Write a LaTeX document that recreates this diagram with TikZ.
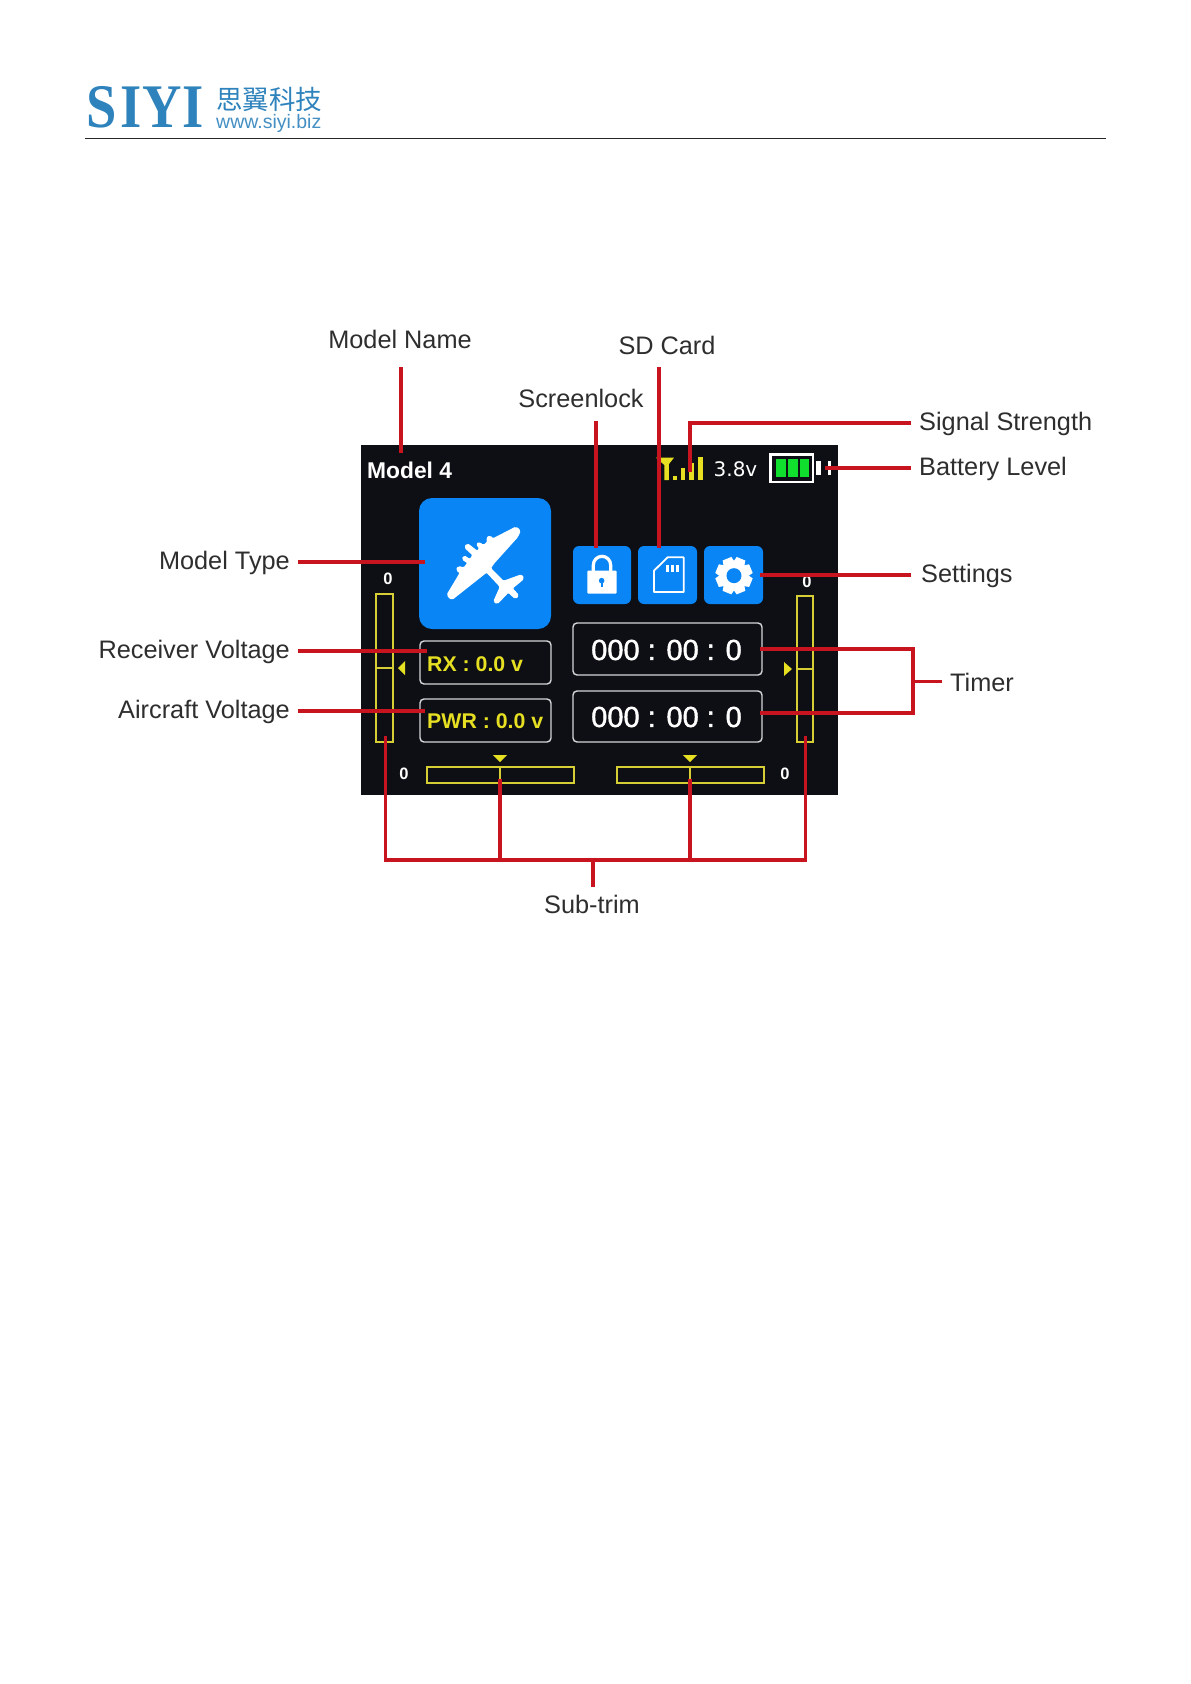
\documentclass[tikz,border=0pt]{standalone}
\usepackage{fontspec}
\setmainfont{Liberation Sans}
\newfontfamily\cjk{Noto Sans CJK SC}
\newfontfamily\logoserif{Liberation Serif}
\newfontfamily\semib[FakeBold=1.5]{Liberation Sans}
\newfontfamily\dv{DejaVu Sans}
\definecolor{screenbg}{HTML}{0D0F14}
\definecolor{iconblue}{HTML}{0A85F5}
\definecolor{logoblue}{HTML}{2F83BD}
\definecolor{barcol}{HTML}{D6CE35}
\definecolor{txtyellow}{HTML}{E6DF22}
\definecolor{linered}{HTML}{C8141E}
\definecolor{lblgray}{HTML}{2E2E2E}
\definecolor{boxgray}{HTML}{D4D6D8}
\definecolor{battgreen}{HTML}{10DF2E}
\newcommand{\logochar}[1]{\scalebox{0.88}[1]{\logoserif\bfseries\fontsize{62}{62}\selectfont #1}}
\tikzset{
 conn/.style={draw=linered,line width=3.2pt},
 lbl/.style={inner xsep=8pt,inner ysep=3pt,text=lblgray,font=\fontsize{25.3}{30}\selectfont},
 tbox/.style={draw=boxgray,line width=1.4pt,rounded corners=4pt},
 bluebtn/.style={fill=iconblue,rounded corners=6pt},
 trimbar/.style={draw=barcol,line width=1.2pt},
 trimtri/.style={fill=txtyellow},
 zero/.style={text=white,font=\bfseries\fontsize{16.5}{18}\selectfont,inner sep=0pt},
 voltage/.style={anchor=base west,inner sep=0pt,text=txtyellow,font=\bfseries\fontsize{21.3}{24}\selectfont},
 timer/.style={anchor=center,inner sep=0pt,text=white,font=\semib\fontsize{29}{32}\selectfont},
 logoletter/.style={anchor=base,inner sep=0pt,text=logoblue},
}
\begin{document}
\begin{tikzpicture}[x=1pt,y=-1pt]
\useasboundingbox (0,0) rectangle (1191,1684);
\fill[white] (0,0) rectangle (1191,1684);
% header
\node[logoletter] (logoS) at (101.5,127) {\logochar{S}};
\node[logoletter] (logoI) at (131.5,127) {\logochar{I}};
\node[logoletter] (logoY) at (162,127) {\logochar{Y}};
\node[logoletter] (logoJ) at (193,127) {\logochar{I}};
\node[anchor=base west,inner sep=0pt,text=logoblue] (logocn) at (216,109) {\cjk\fontsize{26.5}{28}\selectfont 思翼科技};
\node[anchor=base west,inner sep=0pt,text=logoblue!90] (logourl) at (216,128) {\fontsize{19.5}{22}\selectfont www.siyi.biz};
\coordinate (ruleL) at (85,138.5);
\coordinate (ruleR) at (1106,138.5);
\draw[black!85,line width=1pt] (ruleL) -- (ruleR);
% screen
\fill[screenbg] (361,445) rectangle (838,795);
\node[anchor=base west,inner sep=0pt,text=white,font=\bfseries\fontsize{22.8}{25}\selectfont] (mname) at (367,478) {Model 4};
% big icon
\fill[iconblue,rounded corners=13pt] (419,498) rectangle (551,629);
\begin{scope}[shift={(440,520)},x=0.3333pt,y=-0.3333pt]
\filldraw[white,line width=1.6pt,line join=round,rounded corners=1.5pt] (228,22) -- (240,32) -- (232,50) -- (160,130) -- (150,145) -- (190,185) -- (245,165) -- (250,176) -- (215,205) -- (235,226) -- (226,235) -- (205,215) -- (172,250) -- (162,245) -- (182,200) -- (140,155) -- (35,238) -- (22,225) -- (62,158) -- (50,150) -- (55,140) -- (72,145) -- (85,128) -- (68,118) -- (72,108) -- (90,120) -- (100,105) -- (75,82) -- (82,72) -- (112,95) -- (120,85) -- (110,72) -- (118,68) -- (130,78) -- (145,65) -- (140,55) -- (150,48) -- (158,58) -- cycle;
\end{scope}
% small icons
\fill[bluebtn] (573,546) rectangle (631,604);
\fill[bluebtn] (638,546) rectangle (697,604);
\fill[bluebtn] (704,546) rectangle (763,604);
\begin{scope}[shift={(560,430)},x=0.3333pt,y=-0.3333pt]
% lock
\draw[white,line width=3.2pt] (100,425) -- (100,405) arc[start angle=180,end angle=360,x radius=26,y radius=26] -- (152,425);
\fill[white,rounded corners=1pt] (82,422) rectangle (170,491);
\fill[iconblue] (125,452) circle[radius=2.8pt];
\fill[iconblue] (122,452) rectangle (128,470);
% sd
\draw[white,line width=1.8pt,line join=round] (282,486) -- (282,422) -- (323,382) -- (371,382) -- (371,486) -- cycle;
\fill[white] (318,405) rectangle (326,425);
\fill[white] (333,405) rectangle (341,425);
\fill[white] (348,405) rectangle (356,425);
% gear
\foreach \a in {0,45,...,315}{
 \fill[white,rotate around={\a+22.5:(522,437)}] (508,382) -- (536,382) -- (541,405) -- (503,405) -- cycle;
}
\fill[white] (522,437) circle[radius=13.5pt];
\fill[iconblue] (522,437) circle[radius=7.5pt];
% signal
\fill[txtyellow] (288,83) -- (342,83) -- (327,102) -- (327,150) -- (313,150) -- (313,105) -- cycle;
\fill[txtyellow] (338,138) rectangle (350,150);
\fill[txtyellow] (362,115) rectangle (376,150);
\fill[txtyellow] (388,98) rectangle (402,150);
\fill[txtyellow] (415,82) rectangle (429,150);
% battery
\draw[white,line width=2.4pt] (632,74) rectangle (759,156);
\fill[battgreen] (647,88) rectangle (677,142);
\fill[battgreen] (683,88) rectangle (713,142);
\fill[battgreen] (719,88) rectangle (748,142);
\fill[white] (768,93) rectangle (783,136);
\fill[white] (803,93) rectangle (814,136);
\end{scope}
\node[anchor=center,inner sep=0pt,text=white,font=\dv\fontsize{20}{22}\selectfont] (volt) at (735.5,469) {3.8v};
% boxes
\draw[tbox] (420,641) rectangle (551,684);
\draw[tbox] (420,699) rectangle (551,742);
\draw[tbox] (573,623) rectangle (762,675);
\draw[tbox] (573,691) rectangle (762,742);
\node[voltage] (rx) at (427,671) {RX : 0.0 v};
\node[voltage] (pwr) at (427,728) {PWR : 0.0 v};
\node[timer] (t1) at (666.5,650) {000 : 00 : 0};
\node[timer] (t2) at (666.5,717) {000 : 00 : 0};
% trim bars
\draw[trimbar] (376,594) rectangle (393,742);
\draw[trimbar] (376,668) -- (393,668);
\draw[trimbar] (797,596) rectangle (813,742);
\draw[trimbar] (797,669) -- (813,669);
\draw[trimbar] (427,767) rectangle (574,783);
\draw[trimbar] (500,767) -- (500,783);
\draw[trimbar] (617,767) rectangle (764,783);
\draw[trimbar] (690,767) -- (690,783);
\fill[trimtri] (398,668) -- (405,661) -- (405,675) -- cycle;
\fill[trimtri] (792,669) -- (784,662) -- (784,676) -- cycle;
\fill[trimtri] (493,755) -- (507,755) -- (500,762) -- cycle;
\fill[trimtri] (683,755) -- (697,755) -- (690,762) -- cycle;
\node[zero] (z1) at (388,579) {0};
\node[zero] (z2) at (807,582) {0};
\node[zero] (z3) at (404,774) {0};
\node[zero] (z4) at (785,774) {0};
% labels
\node[lbl,anchor=center] (lModelName) at (400,339) {Model Name};
\node[lbl,anchor=center] (lSD) at (667,345) {SD Card};
\node[lbl,anchor=center] (lLock) at (581,398) {Screenlock};
\node[lbl,anchor=west] (lSignal) at (911,423.5) {Signal Strength};
\node[lbl,anchor=west] (lBatt) at (911,469) {Battery Level};
\node[lbl,anchor=west] (lSet) at (913,576) {Settings};
\node[lbl,anchor=west] (lTimer) at (942,682.5) {Timer};
\node[lbl,anchor=east] (lType) at (298,563) {Model Type};
\node[lbl,anchor=east] (lRx) at (298,652) {Receiver Voltage};
\node[lbl,anchor=east] (lAir) at (298,712) {Aircraft Voltage};
\node[lbl,anchor=center] (lSub) at (592,904) {Sub-trim};
% connector ends
\coordinate (sName) at (401,367);
\coordinate (sSD) at (659,367);
\coordinate (sLock) at (596,421);
\coordinate (sSig) at (911,423);
\coordinate (sBatt) at (911,468);
\coordinate (sSet) at (911,575);
\coordinate (eName) at (401,453);
\coordinate (eLock) at (596,548);
\coordinate (eSD) at (659,548);
\coordinate (eSig) at (690,472);
\coordinate (eBatt) at (825,468);
\coordinate (eSet) at (760,575);
\coordinate (eType) at (425,562);
\coordinate (eRx) at (427,651);
\coordinate (eAir) at (425,711);
\coordinate (eT1) at (760,649);
\coordinate (eT2) at (760,713);
\coordinate (jT) at (913,681.5);
\coordinate (jS) at (593,860);
\coordinate (sSub) at (593,887);
\coordinate (eS1) at (385.5,736);
\coordinate (eS2) at (500,779);
\coordinate (eS3) at (690,779);
\coordinate (eS4) at (805.5,736);
\draw[conn] (sName) -- (eName);
\draw[conn] (sLock) -- (eLock);
\draw[conn] (sSD) -- (eSD);
\draw[conn] (sSig) -| (eSig);
\draw[conn] (sBatt) -- (eBatt);
\draw[conn] (sSet) -- (eSet);
\draw[conn] (lType.east |- eType) -- (eType);
\draw[conn] (lRx.east |- eRx) -- (eRx);
\draw[conn] (lAir.east |- eAir) -- (eAir);
\draw[conn] (eT1) -| (jT) |- (eT2);
\draw[conn] (jT) -- (lTimer.west |- jT);
\draw[conn] (eS1) |- (jS) -| (eS4);
\draw[conn] (eS2) -- (eS2 |- jS);
\draw[conn] (eS3) -- (eS3 |- jS);
\draw[conn] (jS) -- (sSub);
\end{tikzpicture}
\end{document}
